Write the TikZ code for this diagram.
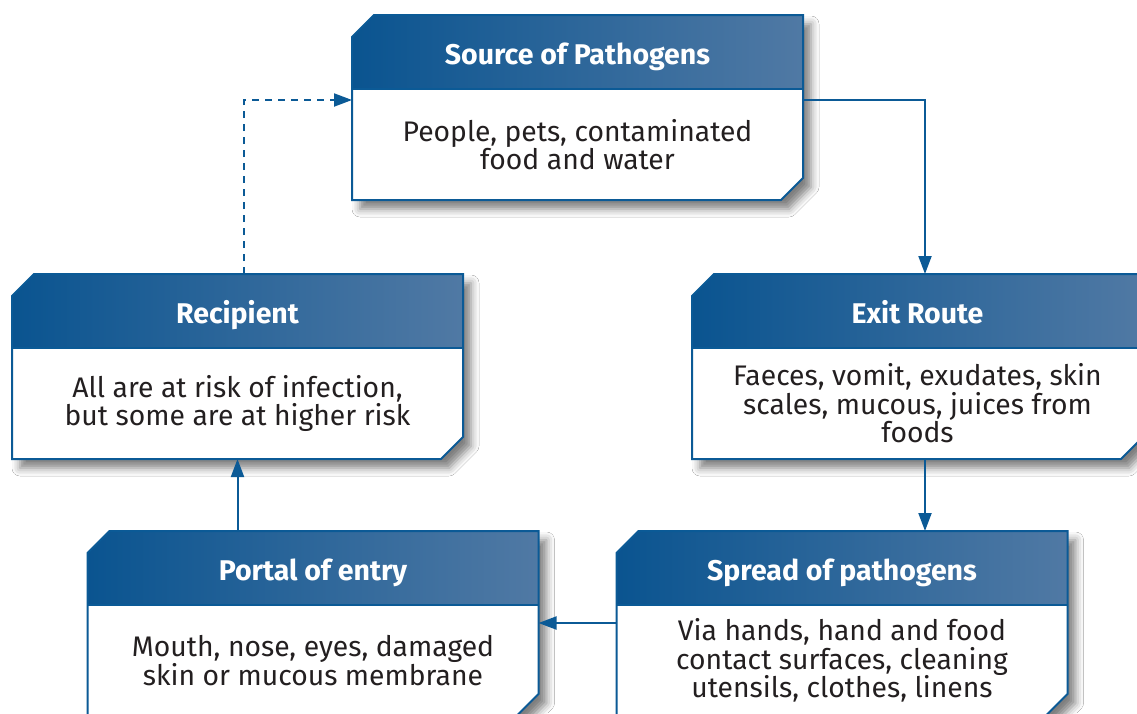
\documentclass[tikz,border=0pt]{standalone}
\usepackage{fontspec}
\setmainfont{Fira Sans}
\usetikzlibrary{arrows.meta,shadows.blur}
\definecolor{boxblue}{HTML}{0B5A96}
\definecolor{hdrleft}{HTML}{0A5490}
\definecolor{hdrright}{HTML}{5079A4}
\definecolor{txtgray}{HTML}{231F20}
\tikzset{
  hdr/.style={minimum width=451pt, minimum height=74pt, inner sep=0pt, outer sep=0pt,
    text height=24pt, text depth=0pt,
    text=white, font=\fontsize{28.5}{30}\selectfont\bfseries},
  bdy/.style={minimum width=451pt, minimum height=111pt, inner sep=0pt, outer sep=0pt,
    text=txtgray, align=center, font=\fontsize{28.3}{28.5}\selectfont},
  boxline/.style={draw=boxblue, line width=2pt, line join=miter},
  hdrfill/.style={left color=hdrleft, right color=hdrright},
  shadowstyle/.style={fill=white, blur shadow={shadow xshift=8pt, shadow yshift=-9pt,
    shadow blur radius=8pt, shadow opacity=50}},
  conn/.style={draw=boxblue, line width=2pt, -{Triangle[length=18pt,width=13pt]}},
  dashconn/.style={conn, dash pattern=on 7pt off 6pt}
}
\newcommand\pbox[5]{%
  \pgfmathsetmacro\bxL{#2-225.5}\pgfmathsetmacro\bxR{#2+225.5}%
  \pgfmathsetmacro\bxT{#3}\pgfmathsetmacro\bxM{#3+74}\pgfmathsetmacro\bxB{#3+185}%
  \fill[shadowstyle] (\bxL,\bxT+22) -- (\bxL+22,\bxT) -- (\bxR,\bxT) -- (\bxR,\bxB-22)
      -- (\bxR-22,\bxB) -- (\bxL,\bxB) -- cycle;
  \shade[hdrfill] (\bxL,\bxT+22) -- (\bxL+22,\bxT) -- (\bxR,\bxT) -- (\bxR,\bxM) -- (\bxL,\bxM) -- cycle;
  \draw[boxline] (\bxL,\bxT+22) -- (\bxL+22,\bxT) -- (\bxR,\bxT) -- (\bxR,\bxB-22)
      -- (\bxR-22,\bxB) -- (\bxL,\bxB) -- cycle;
  \draw[boxline] (\bxL,\bxM) -- (\bxR,\bxM);
  \node[hdr] (#1H) at (#2, #3+37) {#4};
  \node[bdy, anchor=north] (#1B) at (#1H.south) {#5};}
\begin{document}
\begin{tikzpicture}[x=1pt,y=-1pt]
\fill[white] (0,0) rectangle (1137,713);
\useasboundingbox (0,0) rectangle (1137,713);
\pbox{src}{577.5}{15}{Source of Pathogens}{People, pets, contaminated\\food and water}
\pbox{ex}{917.5}{274}{Exit Route}{Faeces, vomit, exudates, skin\\scales, mucous, juices from\\foods}
\pbox{re}{237.5}{274}{Recipient}{All are at risk of infection,\\but some are at higher risk}
\pbox{po}{313}{531}{Portal of entry}{Mouth, nose, eyes, damaged\\skin or mucous membrane}
\pbox{sp}{842}{531}{Spread of pathogens}{Via hands, hand and food\\contact surfaces, cleaning\\utensils, clothes, linens}
\draw[conn] ([yshift=-11pt]srcB.north east) -| ([xshift=7.5pt]exH.north);
\draw[conn] ([xshift=7.5pt]exB.south) -- ([xshift=7.5pt]exB.south |- spH.north);
\draw[conn] ([yshift=-18pt]spB.north west) -- ([yshift=-18pt]poB.north east);
\draw[conn] (poH.north -| reB.south) -- (reB.south);
\draw[dashconn] ([xshift=6.5pt]reH.north) |- ([yshift=-11pt]srcB.north west);
\end{tikzpicture}
\end{document}
